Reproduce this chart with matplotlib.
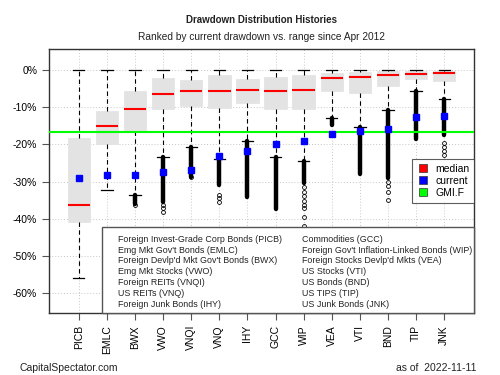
import matplotlib
matplotlib.use("Agg")
import matplotlib.pyplot as plt
from matplotlib.patches import Rectangle
from matplotlib.lines import Line2D

plt.rcParams['font.family'] = ['Liberation Sans', 'DejaVu Sans']

tickers = ['PICB', 'EMLC', 'BWX', 'VWO', 'VNQI', 'VNQ', 'IHY',
           'GCC', 'WIP', 'VEA', 'VTI', 'BND', 'TIP', 'JNK']
box_top = [-18.3, -11.1, -5.7, -2.1, -2.6, -1.4, -2.3,
           -1.8, -1.4, -0.8, -0.5, -0.1, -0.1, -0.3]
box_bottom = [-41.0, -20.0, -16.5, -10.5, -9.6, -10.2, -8.7,
              -10.5, -10.5, -5.7, -6.2, -4.2, -2.3, -2.9]
medians = [-36.3, -15.1, -10.4, -6.3, -5.6, -5.6, -5.4,
           -5.5, -5.2, -2.0, -1.8, -1.4, -0.9, -0.8]
current = [-29.1, -28.2, -28.2, -27.3, -27.0, -23.0, -21.8,
           -20.0, -19.1, -17.2, -16.4, -15.8, -12.5, -12.2]
whisker_low = [-55.9, -32.3, -33.7, -23.5, -20.8, -23.8, -19.2,
               -23.5, -24.4, -12.9, -15.2, -10.7, -5.5, -7.7]
whisker_high = [0.0] * 14
# packed outliers just below the lower whisker, drawn as a solid column
dense_bottom = [None, None, -36.1, -35.5, -28.7, -30.9, -34.1,
                -37.3, -30.5, -14.7, -28.0, -29.0, -18.6, -17.4]
sparse_outliers = [
    [], [], [-36.4], [-36.4, -37.2, -38.1], [-28.9], [-33.6, -34.5, -35.5], [],
    [], [-31.5, -32.8, -34.0, -35.2, -36.4, -37.2, -39.6, -42.0], [], [],
    [-30.0, -31.1, -32.8, -35.0], [], [-19.5, -20.6, -21.8, -22.9],
]
gmi_f = -16.6

names_left = ["Foreign Invest-Grade Corp Bonds (PICB)", "Emg Mkt Gov't Bonds (EMLC)",
              "Foreign Devlp'd Mkt Gov't Bonds (BWX)", "Emg Mkt Stocks (VWO)",
              "Foreign REITs (VNQI)", "US REITs (VNQ)", "Foreign Junk Bonds (IHY)"]
names_right = ["Commodities (GCC)", "Foreign Gov't Inflation-Linked Bonds (WIP)",
               "Foreign Stocks Devlp'd Mkts (VEA)", "US Stocks (VTI)",
               "US Bonds (BND)", "US TIPS (TIP)", "US Junk Bonds (JNK)"]

fig = plt.figure(figsize=(5, 3.75), dpi=100)
ax = fig.add_axes([0.098, 0.1645, 0.85, 0.704])

pos = list(range(1, len(tickers) + 1))

stats = []
for i in range(len(tickers)):
    stats.append({'med': medians[i], 'q1': box_bottom[i], 'q3': box_top[i],
                  'whislo': whisker_low[i], 'whishi': whisker_high[i],
                  'fliers': sparse_outliers[i]})

ax.bxp(stats, positions=pos, widths=0.8, capwidths=0.4, patch_artist=True,
       manage_ticks=False,
       boxprops=dict(facecolor='#e3e3e3', edgecolor='#e3e3e3', linewidth=0.5),
       whiskerprops=dict(color='black', linestyle=(0, (4, 3)), linewidth=0.8),
       capprops=dict(color='black', linewidth=0.9),
       medianprops=dict(color='#ff0000', linewidth=1.5),
       flierprops=dict(marker='o', markersize=2.8, markerfacecolor='none',
                       markeredgecolor='black', markeredgewidth=0.6, linestyle='none'),
       zorder=2)

for i, lo in enumerate(dense_bottom):
    if lo is not None:
        ax.plot([pos[i], pos[i]], [whisker_low[i], lo], color='black',
                linewidth=3.2, solid_capstyle='round', zorder=3)

ax.axhline(gmi_f, color='#00ff00', linewidth=1.5, zorder=4)
ax.plot(pos, current, linestyle='none', marker='s', markersize=4,
        color='#0000ff', zorder=5)

ax.set_xlim(-0.06, 15.06)
ax.set_ylim(-65.55, 5.66)
yt = [0, -10, -20, -30, -40, -50, -60]
ax.set_yticks(yt)
ax.set_yticklabels([f"{v}%" for v in yt])
ax.set_xticks(pos)
ax.set_xticklabels(tickers, rotation=90)
ax.tick_params(axis='both', labelsize=7.5, length=5, width=0.8, color='#555555')
ax.grid(True, color='#c8c8c8', linestyle=(0, (1, 2)), linewidth=0.7)
ax.set_axisbelow(True)
for s in ax.spines.values():
    s.set_linewidth(1.0)
    s.set_color('#333333')

handles = [Line2D([], [], linestyle='none', marker='s', markersize=5.5,
                  markerfacecolor=c, markeredgecolor='#333333', markeredgewidth=0.5)
           for c in ['#ff0000', '#0000ff', '#00ff00']]
leg = ax.legend(handles, ['median', 'current', 'GMI.F'], loc='upper right',
                bbox_to_anchor=(1.0, 0.583), fontsize=7.5, frameon=True,
                fancybox=False, borderpad=0.45, handletextpad=0.5, labelspacing=0.18,
                handlelength=1.3, borderaxespad=0)
leg.get_frame().set_edgecolor('#333333')
leg.get_frame().set_linewidth(0.8)
leg.set_zorder(10)

ax.add_patch(Rectangle((0.1247, 0.0), 0.8753, 0.3277, transform=ax.transAxes,
                       facecolor='white', edgecolor='#555555', linewidth=1.0,
                       zorder=8, clip_on=False))
for k in range(len(names_left)):
    yy = 0.2803 - k * 0.0409
    ax.text(0.1616, yy, names_left[k], transform=ax.transAxes, fontsize=6.4,
            va='center', ha='left', color='#222222', zorder=9)
    ax.text(0.5946, yy, names_right[k], transform=ax.transAxes, fontsize=6.4,
            va='center', ha='left', color='#222222', zorder=9)

fig.text(0.523, 0.947, "Drawdown Distribution Histories", ha='center', va='center',
         fontsize=7.0, fontweight='bold', color='#222222')
fig.text(0.523, 0.901, "Ranked by current drawdown vs. range since Apr 2012",
         ha='center', va='center', fontsize=7.3, color='#222222')
fig.text(0.04, 0.019, "CapitalSpectator.com", ha='left', va='center', fontsize=7.5,
         color='#222222')
fig.text(0.953, 0.019, "as of  2022-11-11", ha='right', va='center', fontsize=7.5,
         color='#222222')

fig.savefig("out.png", dpi=100)
